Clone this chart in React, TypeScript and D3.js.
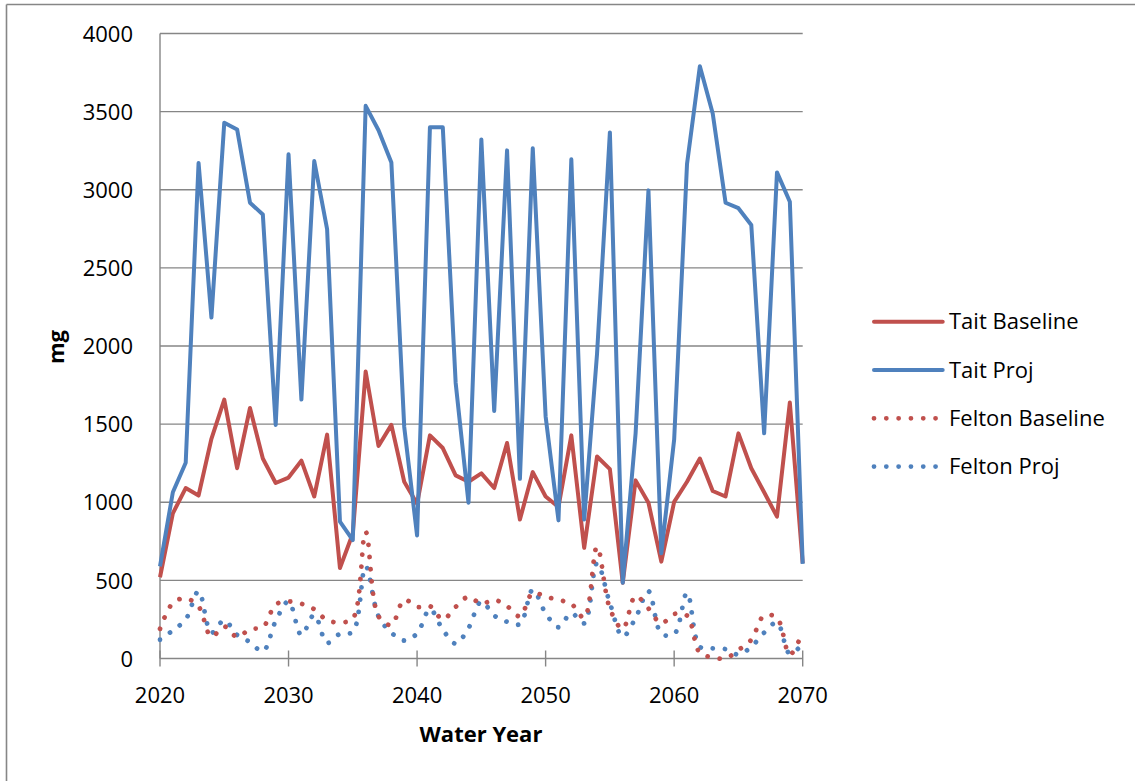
import React from "react";
import * as d3 from "d3";

const years: number[] = d3.range(2020, 2071);

const taitBaseline: number[] = [
  520, 929, 1091, 1043, 1406, 1657, 1218, 1603, 1280, 1123,
  1158, 1266, 1037, 1433, 579, 800, 1837, 1360, 1495, 1131,
  990, 1428, 1347, 1172, 1131, 1185, 1091, 1379, 889, 1193,
  1037, 970, 1428, 708, 1293, 1212, 485, 1140, 997, 620,
  1002, 1131, 1280, 1072, 1037, 1441, 1218, 1064, 908, 1638,
  610,
];

const taitProj: number[] = [
  590, 1064, 1253, 3171, 2182, 3429, 3386, 2917, 2842, 1495,
  3227, 1657, 3184, 2748, 876, 758, 3537, 3381, 3174, 1482,
  787, 3400, 3400, 1765, 997, 3322, 1584, 3252, 1150, 3265,
  1549, 884, 3195, 889, 1950, 3367, 485, 1441, 2996, 673,
  1401, 3165, 3790, 3488, 2917, 2882, 2775, 1441, 3111, 2923,
  606,
];

const feltonBaseline: number[] = [
  190, 355, 385, 333, 140, 205, 138, 188, 200, 345,
  365, 350, 315, 245, 232, 255, 810, 270, 215, 376,
  330, 335, 250, 330, 395, 350, 375, 335, 270, 420,
  395, 375, 350, 260, 715, 320, 190, 400, 320, 225,
  285, 275, 35, 8, 0, 55, 120, 275, 260, 25,
  170,
];

const feltonProj: number[] = [
  120, 180, 250, 430, 165, 245, 150, 105, 45, 240,
  365, 150, 280, 100, 158, 170, 590, 270, 165, 115,
  160, 315, 185, 95, 195, 365, 275, 235, 220, 440,
  290, 200, 290, 225, 610, 355, 140, 260, 430, 160,
  155, 420, 75, 65, 60, 25, 75, 165, 230, 30,
  95,
];

const yTicks: number[] = [0, 500, 1000, 1500, 2000, 2500, 3000, 3500, 4000];
const xTicks: number[] = [2020, 2030, 2040, 2050, 2060, 2070];

const RED = "#C0504D";
const BLUE = "#4F81BD";
const GRID = "#868686";
const FONT = "'Open Sans', Lato, sans-serif";

type Series = { name: string; values: number[]; color: string; dotted: boolean };
const seriesList: Series[] = [
  { name: "Tait Baseline", values: taitBaseline, color: RED, dotted: false },
  { name: "Tait Proj", values: taitProj, color: BLUE, dotted: false },
  { name: "Felton Baseline", values: feltonBaseline, color: RED, dotted: true },
  { name: "Felton Proj", values: feltonProj, color: BLUE, dotted: true },
];

export default function App() {
  const W = 1135;
  const H = 781;
  const x = d3.scaleLinear().domain([2020, 2070]).range([160, 802.7]);
  const y = d3.scaleLinear().domain([0, 4000]).range([658.5, 33.5]);

  const straight = d3
    .line<number>()
    .x((_, i) => x(years[i]))
    .y((d) => y(d))
    .curve(d3.curveLinear);
  const smooth = d3
    .line<number>()
    .x((_, i) => x(years[i]))
    .y((d) => y(d))
    .curve(d3.curveCatmullRom.alpha(0.5));

  const legendY0 = 321.7;
  const legendStep = 48.3;

  return (
    <svg
      width={W}
      height={H}
      style={{ position: "absolute", left: 0, top: 0, display: "block", background: "#fff" }}
      fontFamily={FONT}
    >
      <rect x={0} y={0} width={W} height={H} fill="#fff" />
      {/* outer frame */}
      <line x1={6.5} y1={4.5} x2={W} y2={4.5} stroke={GRID} strokeWidth={1.6} />
      <line x1={6.5} y1={4.5} x2={6.5} y2={H} stroke={GRID} strokeWidth={1.6} />

      {/* gridlines */}
      {yTicks.map((t) => (
        <line
          key={"g" + t}
          x1={x(2020)}
          x2={x(2070)}
          y1={y(t)}
          y2={y(t)}
          stroke={GRID}
          strokeWidth={1.4}
        />
      ))}
      {/* y axis */}
      <line x1={x(2020)} x2={x(2020)} y1={y(4000)} y2={y(0)} stroke={GRID} strokeWidth={1.4} />
      {/* x ticks */}
      {xTicks.map((t) => (
        <line
          key={"xt" + t}
          x1={x(t)}
          x2={x(t)}
          y1={y(0) - 8}
          y2={y(0) + 8}
          stroke={GRID}
          strokeWidth={1.4}
        />
      ))}
      {/* y tick labels */}
      {yTicks.map((t) => (
        <text key={"yl" + t} x={133} y={y(t) + 8.2} textAnchor="end" fontSize={22} fill="#000">
          {t}
        </text>
      ))}
      {/* x tick labels */}
      {xTicks.map((t) => (
        <text key={"xl" + t} x={x(t)} y={702.7} textAnchor="middle" fontSize={22} fill="#000">
          {t}
        </text>
      ))}
      {/* axis titles */}
      <text x={481} y={742.3} textAnchor="middle" fontSize={22} fontWeight="bold" fill="#000">
        Water Year
      </text>
      <text
        transform={`translate(63.5,347) rotate(-90)`}
        textAnchor="middle"
        fontSize={22}
        fontWeight="bold"
        fill="#000"
      >
        mg
      </text>

      {/* series */}
      {seriesList
        .slice()
        .reverse()
        .map((s) =>
          s.dotted ? (
            <path
              key={s.name}
              d={smooth(s.values) || ""}
              fill="none"
              stroke={s.color}
              strokeWidth={4.8}
              strokeLinecap="round"
              strokeDasharray="0.01 12.2"
            />
          ) : null
        )}
      {seriesList.map((s) =>
        !s.dotted ? (
          <path
            key={s.name}
            d={straight(s.values) || ""}
            fill="none"
            stroke={s.color}
            strokeWidth={4}
            strokeLinejoin="round"
          />
        ) : null
      )}

      {/* legend */}
      {seriesList.map((s, i) => {
        const ly = legendY0 + i * legendStep;
        return (
          <g key={"lg" + s.name}>
            <line
              x1={874}
              x2={s.dotted ? 936 : 942.7}
              y1={ly}
              y2={ly}
              stroke={s.color}
              strokeWidth={s.dotted ? 4.8 : 4}
              strokeLinecap="round"
              strokeDasharray={s.dotted ? "0.01 12.3" : undefined}
            />
            <text x={949} y={ly + 7.6} fontSize={22} fill="#000">
              {s.name}
            </text>
          </g>
        );
      })}
    </svg>
  );
}
